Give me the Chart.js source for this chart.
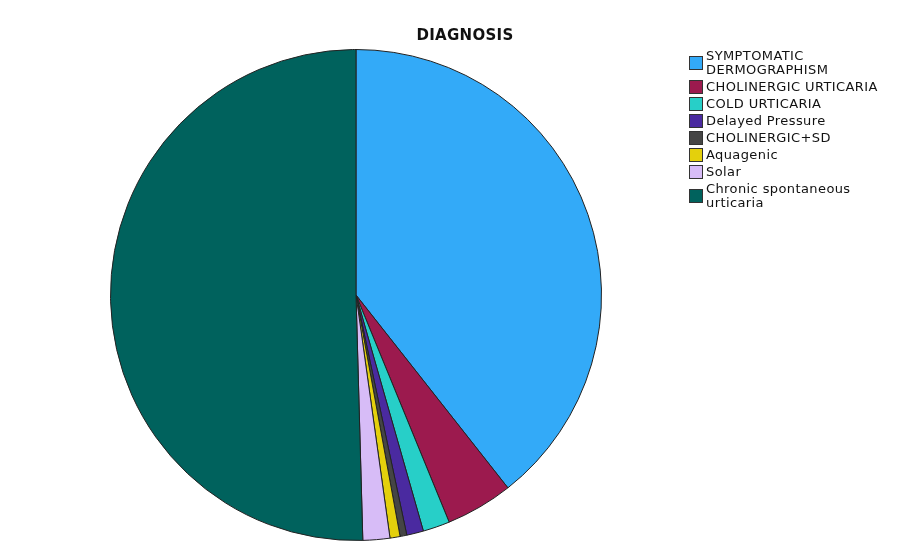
<!DOCTYPE html>
<html>
<head>
<meta charset="utf-8">
<script src="https://cdn.jsdelivr.net/npm/chart.js@4"></script>
<style>
  body { margin: 0; background: #fff; }
  #wrap { position: relative; width: 910px; height: 541px; }
  #title { position: absolute; left: 0; width: 930px; top: 26px; text-align: center;
    font: bold 15px "DejaVu Sans", sans-serif; letter-spacing: 0.3px; color: #111; }
  #legend { position: absolute; left: 689px; top: 49px; font: 13px "DejaVu Sans", sans-serif;
    letter-spacing: 0.4px; color: #111; }
  .item { display: flex; align-items: center; margin-bottom: 3px; line-height: 14px; }
  .box { width: 12px; height: 12px; border: 1px solid #333; margin-right: 3px; flex: none; }
</style>
</head>
<body>
<div id="wrap">
  <canvas id="pie" width="910" height="541"></canvas>
  <div id="title">DIAGNOSIS</div>
  <div id="legend"></div>
</div>
<script>
// categories, as in the legend (two-line labels kept as arrays)
const labels = [
  ['SYMPTOMATIC', 'DERMOGRAPHISM'],
  ['CHOLINERGIC URTICARIA'],
  ['COLD URTICARIA'],
  ['Delayed Pressure'],
  ['CHOLINERGIC+SD'],
  ['Aquagenic'],
  ['Solar'],
  ['Chronic spontaneous', 'urticaria']
];
// counts
const counts = [89, 10, 4, 2.5, 1, 1.5, 4, 114];
const colors = ['#33aaf8', '#9c1a4e', '#27cfc8', '#4a2aa0', '#454545', '#e4d00c', '#d7bcf7', '#00625d'];

new Chart(document.getElementById('pie'), {
  type: 'pie',
  data: {
    labels: labels.map(l => l.join(' ')),
    datasets: [{
      data: counts,
      backgroundColor: colors,
      borderColor: '#222',
      borderWidth: 1
    }]
  },
  options: {
    responsive: false,
    animation: false,
    layout: { padding: { left: 110, right: 308, top: 49, bottom: 0 } },
    plugins: {
      legend: { display: false },
      tooltip: { enabled: false }
    }
  }
});

// legend
const leg = document.getElementById('legend');
labels.forEach((l, i) => {
  const it = document.createElement('div');
  it.className = 'item';
  it.innerHTML = '<div class="box" style="background:' + colors[i] + '"></div><div>' + l.join('<br>') + '</div>';
  leg.appendChild(it);
});
</script>
</body>
</html>
